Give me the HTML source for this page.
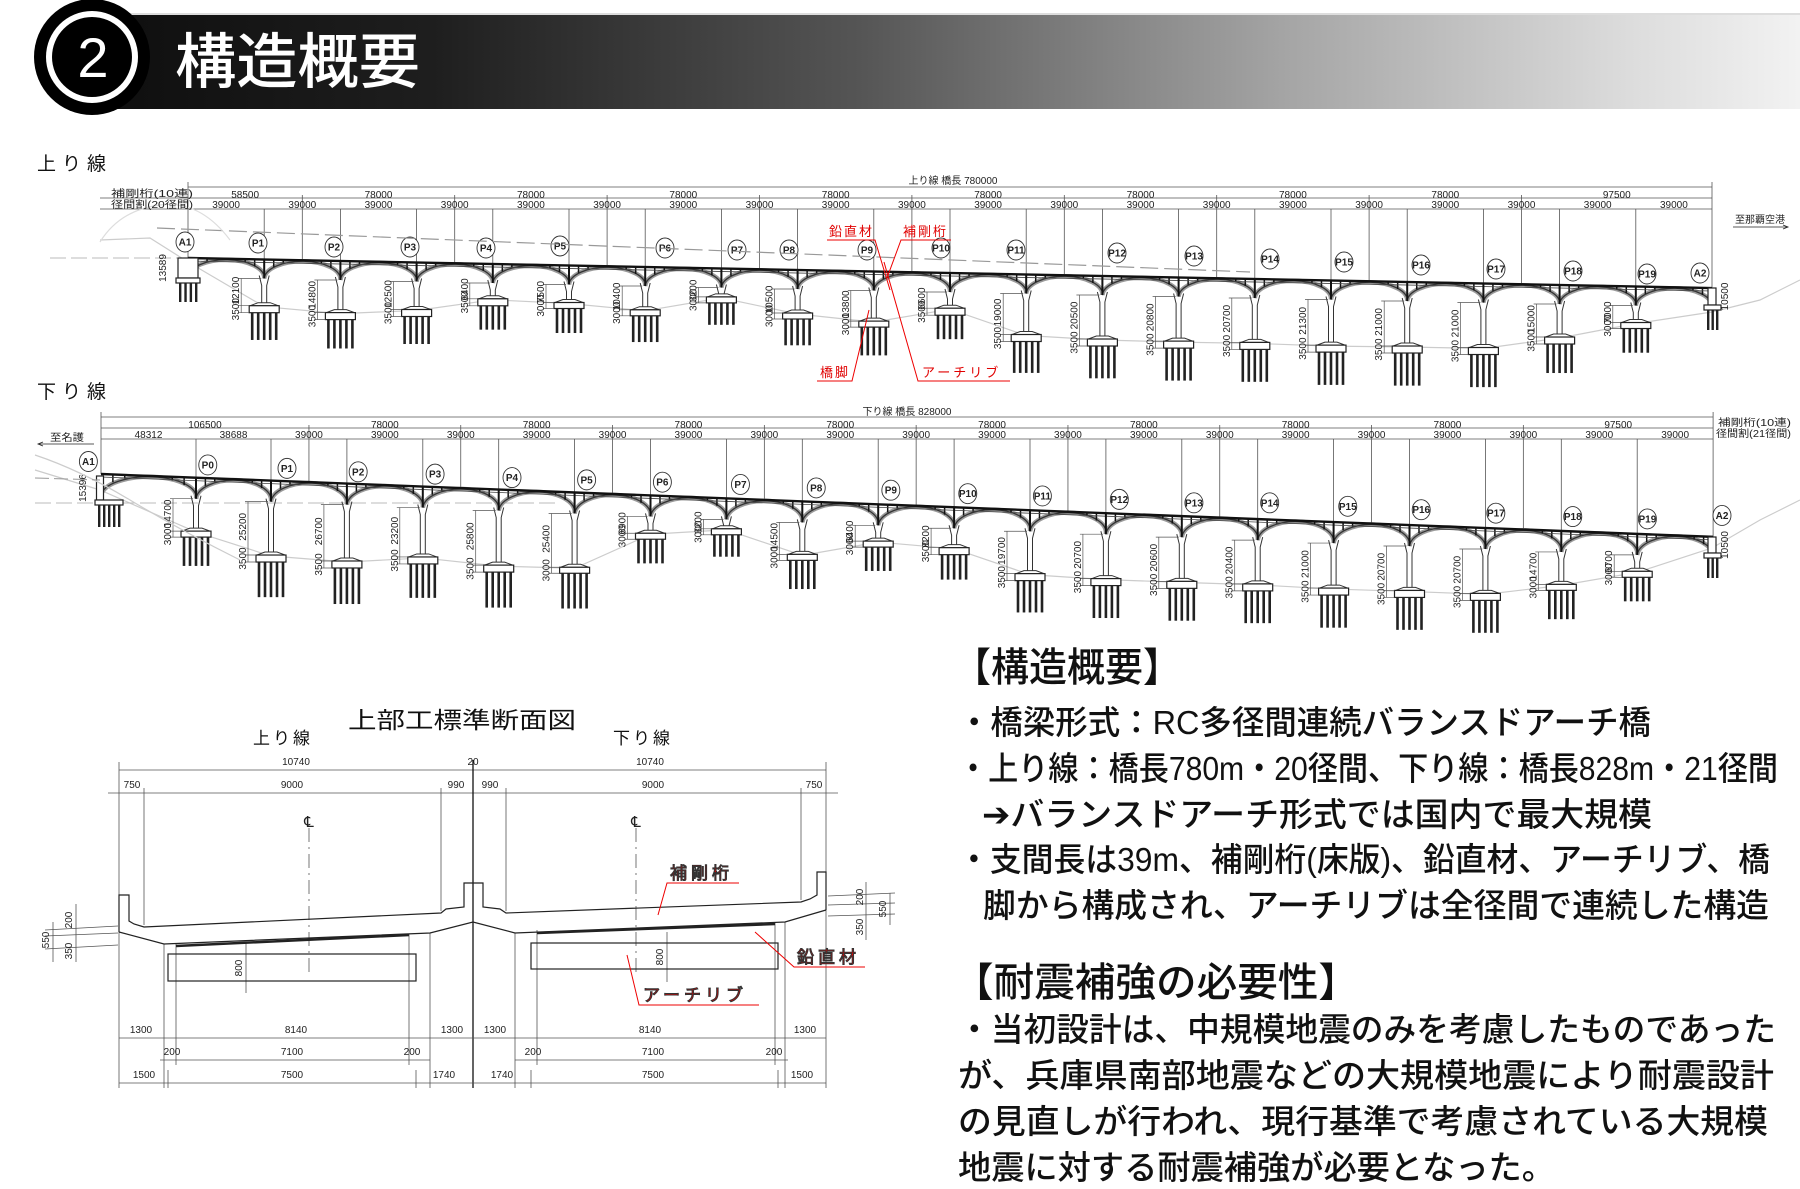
<!DOCTYPE html>
<html><head><meta charset="utf-8">
<style>
html,body{margin:0;padding:0;background:#fff;}
svg{display:block;}
.jp{font-family:"Liberation Sans","Noto Sans CJK JP",sans-serif;}
.sm{font-family:"Liberation Sans","Noto Sans CJK JP",sans-serif;font-size:10px;fill:#222;}
.red{fill:#e00000;font-family:"Liberation Sans","Noto Sans CJK JP",sans-serif;}
</style></head>
<body>
<svg id="s" width="1800" height="1189" viewBox="0 0 1800 1189" xmlns="http://www.w3.org/2000/svg">
<defs>
<linearGradient id="bar" x1="0" x2="1" y1="0" y2="0">
<stop offset="0" stop-color="#0e0e0e"/><stop offset="0.2" stop-color="#1e1e1e"/>
<stop offset="0.45" stop-color="#555"/><stop offset="0.7" stop-color="#a5a5a5"/>
<stop offset="0.9" stop-color="#dcdcdc"/><stop offset="1" stop-color="#f2f2f2"/>
</linearGradient>
</defs>
<!-- header -->
<rect x="90" y="14" width="1710" height="95" fill="url(#bar)"/>
<line x1="90" y1="14" x2="1800" y2="14" stroke="#ddd" stroke-width="2"/>
<circle cx="92" cy="57" r="58" fill="#000"/>
<circle cx="92" cy="57" r="46" fill="#fff"/>
<circle cx="92" cy="57" r="40" fill="#000"/>
<text x="93" y="77" text-anchor="middle" font-size="56" fill="#fff" class="jp">2</text>
<text x="175" y="83" font-size="60" fill="#fff" class="jp" font-weight="500" textLength="245" lengthAdjust="spacingAndGlyphs">構造概要</text>

<text x="37" y="170" font-size="19" class="jp" fill="#111" letter-spacing="6">上り線</text>
<text x="37" y="398" font-size="19" class="jp" fill="#111" letter-spacing="6">下り線</text>

<g id="top"></g>
<g id="bot"></g>

<!-- top static labels -->
<text x="111" y="197" class="sm" font-size="9.5" textLength="82" lengthAdjust="spacingAndGlyphs">補剛桁(10連)</text>
<text x="111" y="208" class="sm" font-size="9.5" textLength="82" lengthAdjust="spacingAndGlyphs">径間割(20径間)</text>
<text x="953" y="184" class="sm" font-size="9.5" text-anchor="middle">上り線 橋長 780000</text>
<text x="1735" y="223" class="sm" font-size="10.5" textLength="50" lengthAdjust="spacingAndGlyphs">至那覇空港</text>
<line x1="1733" y1="227" x2="1788" y2="227" stroke="#222" stroke-width="0.8"/>
<path d="M1783 225 L1788 227 L1783 229" fill="none" stroke="#222" stroke-width="0.8"/>

<!-- bottom static labels -->
<text x="907" y="415" class="sm" font-size="9.5" text-anchor="middle">下り線 橋長 828000</text>
<text x="1718" y="426" class="sm" font-size="9.5" textLength="73" lengthAdjust="spacingAndGlyphs">補剛桁(10連)</text>
<text x="1716" y="437" class="sm" font-size="9.5" textLength="75" lengthAdjust="spacingAndGlyphs">径間割(21径間)</text>
<text x="50" y="441" class="sm" font-size="10.5" textLength="34" lengthAdjust="spacingAndGlyphs">至名護</text>
<line x1="38" y1="444" x2="94" y2="444" stroke="#222" stroke-width="0.8"/>
<path d="M43 442 L38 444 L43 446" fill="none" stroke="#222" stroke-width="0.8"/>

<!-- red annotations on top bridge -->
<g stroke="#e00" stroke-width="1" fill="none">
<path d="M827 240 L875 240 L890 290"/>
<path d="M951 240 L901 240 L887 278"/>
<path d="M817 381 L852 381 L869 310"/>
<path d="M1010 381 L918 381 L884 262"/>
</g>
<text x="829" y="236" class="red" font-size="13" letter-spacing="2">鉛直材</text>
<text x="903" y="236" class="red" font-size="13" letter-spacing="2">補剛桁</text>
<text x="820" y="377" class="red" font-size="13" letter-spacing="2">橋脚</text>
<text x="922" y="377" class="red" font-size="13" letter-spacing="3">アーチリブ</text>

<!-- cross section -->
<g id="xs" fill="none" stroke="#333" stroke-width="1">
<text x="462" y="728" text-anchor="middle" font-size="23" class="jp" fill="#111" stroke="none" textLength="228" lengthAdjust="spacingAndGlyphs">上部工標準断面図</text>
<text x="253" y="744" font-size="17" class="jp" fill="#111" stroke="none" letter-spacing="3">上り線</text>
<text x="613" y="744" font-size="17" class="jp" fill="#111" stroke="none" letter-spacing="3">下り線</text>
<g stroke="#555" stroke-width="0.8">
<line x1="119" y1="770" x2="826" y2="770"/>
<line x1="108" y1="793" x2="838" y2="793"/>
<line x1="119" y1="762" x2="119" y2="1088"/>
<line x1="826" y1="762" x2="826" y2="1088"/>
<line x1="473" y1="760" x2="473" y2="1088" stroke="#111" stroke-width="1.3"/>
<line x1="144" y1="788" x2="144" y2="925"/>
<line x1="441" y1="788" x2="441" y2="911"/>
<line x1="506" y1="788" x2="506" y2="911"/>
<line x1="801" y1="788" x2="801" y2="900"/>
<line x1="309" y1="828" x2="309" y2="972" stroke-dasharray="14 5 2 5"/>
<line x1="636" y1="828" x2="636" y2="972" stroke-dasharray="14 5 2 5"/>
<line x1="164" y1="944" x2="164" y2="1088"/>
<line x1="176" y1="944" x2="176" y2="1065"/>
<line x1="409" y1="934" x2="409" y2="1065"/>
<line x1="430" y1="933" x2="430" y2="1088"/>
<line x1="515" y1="933" x2="515" y2="1088"/>
<line x1="537" y1="930" x2="537" y2="1065"/>
<line x1="775" y1="922" x2="775" y2="1065"/>
<line x1="785" y1="922" x2="785" y2="1088"/>
<line x1="119" y1="1038" x2="826" y2="1038"/>
<line x1="160" y1="1060" x2="430" y2="1060"/>
<line x1="515" y1="1060" x2="788" y2="1060"/>
<line x1="119" y1="1083" x2="826" y2="1083"/>
<line x1="168" y1="1070" x2="168" y2="1088"/>
<line x1="416" y1="1070" x2="416" y2="1088"/>
<line x1="531" y1="1070" x2="531" y2="1088"/>
<line x1="778" y1="1070" x2="778" y2="1088"/>
<line x1="53" y1="922" x2="53" y2="962"/><line x1="76" y1="904" x2="76" y2="962"/>
<line x1="45" y1="930" x2="118" y2="926"/><line x1="45" y1="936" x2="118" y2="933"/><line x1="45" y1="949" x2="118" y2="945"/>
<line x1="866" y1="882" x2="866" y2="940"/><line x1="890" y1="893" x2="890" y2="925"/>
<line x1="828" y1="896" x2="895" y2="893"/><line x1="828" y1="905" x2="895" y2="903"/><line x1="828" y1="916" x2="895" y2="914"/>
<line x1="246" y1="943" x2="246" y2="993"/><line x1="667" y1="932" x2="667" y2="982"/>
</g>
<g class="sm" font-size="11" stroke="none" text-anchor="middle" fill="#222">
<text x="296" y="765">10740</text><text x="473" y="765">20</text><text x="650" y="765">10740</text>
<text x="132" y="788">750</text><text x="292" y="788">9000</text><text x="456" y="788">990</text>
<text x="490" y="788">990</text><text x="653" y="788">9000</text><text x="814" y="788">750</text>
<text x="141" y="1033">1300</text><text x="296" y="1033">8140</text><text x="452" y="1033">1300</text>
<text x="495" y="1033">1300</text><text x="650" y="1033">8140</text><text x="805" y="1033">1300</text>
<text x="172" y="1055">200</text><text x="292" y="1055">7100</text><text x="412" y="1055">200</text>
<text x="533" y="1055">200</text><text x="653" y="1055">7100</text><text x="774" y="1055">200</text>
<text x="144" y="1078">1500</text><text x="292" y="1078">7500</text><text x="444" y="1078">1740</text>
<text x="502" y="1078">1740</text><text x="653" y="1078">7500</text><text x="802" y="1078">1500</text>
<text x="309" y="827" font-size="15">℄</text><text x="636" y="827" font-size="15">℄</text>
<text transform="translate(49,940) rotate(-90)">550</text>
<text transform="translate(72,920) rotate(-90)">200</text>
<text transform="translate(72,951) rotate(-90)">350</text>
<text transform="translate(863,897) rotate(-90)">200</text>
<text transform="translate(886,909) rotate(-90)">550</text>
<text transform="translate(863,927) rotate(-90)">350</text>
<text transform="translate(242,968) rotate(-90)">800</text>
<text transform="translate(663,957) rotate(-90)">800</text>
</g>
<g stroke="#222" stroke-width="1.2">
<path d="M119 932 L119 895 L129 895 L129 921 L134 924 L144 927 L441 913 L446 909 L464 907 L464 883 L483 883 L483 907 L500 909 L506 913 L801 902 L810 899 L817 895 L817 872 L826 872 L826 910"/>
<path d="M119 932 L164 944 L430 933 L473 922 L515 933 L785 922 L826 910"/>
<path d="M176 946 L409 935" stroke-width="2.5"/>
<path d="M537 933 L775 924" stroke-width="2.5"/>
<rect x="168" y="954" width="248" height="27"/>
<rect x="531" y="943" width="247" height="26"/>
</g>
<g stroke="#e00" stroke-width="1">
<path d="M739 883 L667 883 L658 915"/>
<path d="M865 967 L794 967 L755 932"/>
<path d="M759 1005 L639 1005 L627 955"/>
</g>
<text x="670" y="879" class="red" font-size="17" letter-spacing="4">補剛桁</text>
<text x="797" y="963" class="red" font-size="17" letter-spacing="4">鉛直材</text>
<text x="643" y="1001" class="red" font-size="17" letter-spacing="4">アーチリブ</text>
</g>

<!-- text block -->
<g class="jp" fill="#111" font-weight="500">
<text x="953" y="681" font-size="40" textLength="228" lengthAdjust="spacingAndGlyphs">【構造概要】</text>
<text x="958" y="734" font-size="33" textLength="693" lengthAdjust="spacingAndGlyphs">・橋梁形式：RC多径間連続バランスドアーチ橋</text>
<text x="958" y="780" font-size="33" textLength="820" lengthAdjust="spacingAndGlyphs">・上り線：橋長780m・20径間、下り線：橋長828m・21径間</text>
<text x="982" y="826" font-size="33" textLength="670" lengthAdjust="spacingAndGlyphs">➔バランスドアーチ形式では国内で最大規模</text>
<text x="958" y="871" font-size="33" textLength="812" lengthAdjust="spacingAndGlyphs">・支間長は39m、補剛桁(床版)、鉛直材、アーチリブ、橋</text>
<text x="983" y="917" font-size="33" textLength="786" lengthAdjust="spacingAndGlyphs">脚から構成され、アーチリブは全径間で連続した構造</text>
<text x="953" y="996" font-size="40" textLength="406" lengthAdjust="spacingAndGlyphs">【耐震補強の必要性】</text>
<text x="958" y="1041" font-size="33" textLength="818" lengthAdjust="spacingAndGlyphs">・当初設計は、中規模地震のみを考慮したものであった</text>
<text x="958" y="1087" font-size="33" textLength="816" lengthAdjust="spacingAndGlyphs">が、兵庫県南部地震などの大規模地震により耐震設計</text>
<text x="958" y="1133" font-size="33" textLength="810" lengthAdjust="spacingAndGlyphs">の見直しが行われ、現行基準で考慮されている大規模</text>
<text x="958" y="1179" font-size="33" textLength="597" lengthAdjust="spacingAndGlyphs">地震に対する耐震補強が必要となった。</text>
</g>
</svg>
<script>
(function(){
var NS='http://www.w3.org/2000/svg';
function el(p,t,a,txt){var e=document.createElementNS(NS,t);for(var k in a)e.setAttribute(k,a[k]);if(txt!==undefined)e.textContent=txt;p.appendChild(e);return e;}
function build(g,c){
  var xs=c.xs, n=xs.length, deck=c.deck, d=c.d, k=0.002;
  var gp=[];
  for(var i=1;i<n-1;i++){var x=xs[i];var yJ=deck(x)+d;gp.push((x)+','+(yJ+c.h[i-1]*k+4));}
  el(g,'polyline',{points:c.gStart+' '+gp.join(' ')+' '+c.gEnd,fill:'none',stroke:'#ccc','stroke-width':1.2});
  el(g,'polyline',{points:c.gStart2,fill:'none',stroke:'#bbb','stroke-width':1,'stroke-dasharray':'16 5'});
  var L=c.dimL;
  el(g,'line',{x1:xs[0],y1:c.dy[0],x2:xs[n-1],y2:c.dy[0],stroke:'#555','stroke-width':0.8});
  el(g,'line',{x1:L,y1:c.dy[1],x2:xs[n-1],y2:c.dy[1],stroke:'#555','stroke-width':0.8});
  el(g,'line',{x1:L,y1:c.dy[2],x2:xs[n-1],y2:c.dy[2],stroke:'#555','stroke-width':0.8});
  el(g,'line',{x1:xs[0],y1:c.dy[0]-5,x2:xs[0],y2:deck(xs[0]),stroke:'#555','stroke-width':0.8});
  el(g,'line',{x1:xs[n-1],y1:c.dy[0]-5,x2:xs[n-1],y2:deck(xs[n-1]),stroke:'#555','stroke-width':0.8});
  for(var i=1;i<n-1;i++){el(g,'line',{x1:xs[i],y1:c.dy[2],x2:xs[i],y2:deck(xs[i]),stroke:'#555','stroke-width':0.8});}
  c.gb.forEach(function(x){el(g,'line',{x1:x,y1:c.dy[1]-3,x2:x,y2:deck(x),stroke:'#555','stroke-width':0.8});});
  c.r1.forEach(function(t){el(g,'text',{x:t[0],y:c.dy[0]+11,'class':'sm','font-size':10,'text-anchor':'middle'},t[1]);});
  for(var i=0;i<n-1;i++){var lab=c.r2[i]||'39000';el(g,'text',{x:(xs[i]+xs[i+1])/2,y:c.dy[1]+10,'class':'sm','font-size':10,'text-anchor':'middle'},lab);}
  for(var i=0;i<n-1;i++){
    var xa=xs[i],xb=xs[i+1],ya=deck(xa)+d,yb=deck(xb)+d,rx=(xb-xa)/2,ry=d-1;
    el(g,'path',{d:'M'+xa+' '+ya+' A'+rx+' '+ry+' 0 0 1 '+xb+' '+yb,fill:'none',stroke:'#9a9a9a','stroke-width':4.5});
    el(g,'path',{d:'M'+xa+' '+ya+' A'+rx+' '+ry+' 0 0 1 '+xb+' '+yb,fill:'none',stroke:'#333','stroke-width':1.3});
    for(var j=1;j<8;j++){if(j==4)continue;var t=j/8,x=xa+t*(xb-xa);var yd=deck(x);var yl=ya+t*(yb-ya);
      var ay=yl-ry*Math.sqrt(1-Math.pow(2*t-1,2));if(ay-yd>2)el(g,'line',{x1:x,y1:yd,x2:x,y2:ay,stroke:'#111','stroke-width':1.5});}
  }
  el(g,'line',{x1:xs[0],y1:deck(xs[0]),x2:xs[n-1],y2:deck(xs[n-1]),stroke:'#111','stroke-width':2.4});
  el(g,'line',{x1:xs[0],y1:deck(xs[0])+3,x2:xs[n-1],y2:deck(xs[n-1])+3,stroke:'#444','stroke-width':0.8});
  for(var i=1;i<n-1;i++){
    var x=xs[i],yJ=deck(x)+d,h=c.h[i-1],f=c.f[i-1],ct=yJ+h*k,ch=f*k,pl=20+h*0.0006;
    el(g,'line',{x1:x,y1:deck(x),x2:x,y2:yJ,stroke:'#111','stroke-width':2});
    el(g,'path',{d:'M'+(x-5)+' '+(yJ-3)+' L'+(x-2.5)+' '+(yJ+7)+' L'+(x-2.5)+' '+ct+' M'+(x+5)+' '+(yJ-3)+' L'+(x+2.5)+' '+(yJ+7)+' L'+(x+2.5)+' '+ct,fill:'none',stroke:'#333','stroke-width':1});
    el(g,'path',{d:'M'+(x-6)+' '+ct+' L'+(x-14)+' '+(ct+3)+' L'+(x+14)+' '+(ct+3)+' L'+(x+6)+' '+ct+' Z',fill:'#fff',stroke:'#333','stroke-width':1});
    el(g,'rect',{x:x-15,y:ct+3,width:30,height:ch,fill:'#fff',stroke:'#222','stroke-width':1.2});
    for(var p=-2;p<=2;p++)el(g,'rect',{x:x+p*6-1.3,y:ct+3+ch,width:2.6,height:pl,fill:'#222'});
    var dx=x-26;
    el(g,'path',{d:'M'+dx+' '+yJ+' L'+(x-3)+' '+yJ+' M'+dx+' '+(ct+3)+' L'+(x-15)+' '+(ct+3)+' M'+dx+' '+(ct+3+ch)+' L'+(x-15)+' '+(ct+3+ch)+' M'+(dx+3)+' '+yJ+' L'+(dx+3)+' '+(ct+3+ch),fill:'none',stroke:'#555','stroke-width':0.7});
    el(g,'text',{transform:'translate('+(dx+1)+','+((yJ+ct)/2)+') rotate(-90)','class':'sm','font-size':10,'text-anchor':'middle'},String(h));
    el(g,'text',{transform:'translate('+(dx+1)+','+(ct+3+ch/2)+') rotate(-90)','class':'sm','font-size':9,'text-anchor':'middle'},String(f));
  }
  c.ab.forEach(function(a){
    el(g,'rect',{x:a.x-a.w/2,y:a.y0,width:a.w,height:a.y1-a.y0,fill:'#fff',stroke:'#222','stroke-width':1.2});
    el(g,'rect',{x:a.cx,y:a.y1,width:a.cw,height:5,fill:'#fff',stroke:'#222','stroke-width':1.2});
    for(var p=0;p<a.np;p++)el(g,'rect',{x:a.cx+3+p*((a.cw-8)/(a.np-1)),y:a.y1+5,width:2.4,height:a.pl,fill:'#222'});
    el(g,'text',{transform:'translate('+a.tx+','+((a.y0+a.y1)/2)+') rotate(-90)','class':'sm','font-size':10,'text-anchor':'middle'},a.t);
  });
  c.cir.forEach(function(q){el(g,'ellipse',{cx:q[0],cy:q[1],rx:9,ry:10,fill:'#fff',stroke:'#333','stroke-width':0.9});
    el(g,'text',{x:q[0],y:q[1]+3.5,'class':'sm','font-size':9,'text-anchor':'middle','font-weight':'bold'},q[2]);});
}
var tx=[188];for(var i=1;i<=20;i++)tx.push(188+i*76.2);
var tdeck=function(x){return 258+(x-188)*0.0197;};
var tc=[[185,242,'A1']],tl=[258,334,410,486,560,665,737,789,867,941,1016,1117,1194,1270,1344,1421,1496,1573,1647,1700],
 ty=[243,247,247,248,246,248,250,250,250,248,250,253,256,259,262,265,269,271,274,273];
for(var i=0;i<20;i++)tc.push([tl[i],ty[i],i<19?'P'+(i+1):'A2']);
var tgb=[],tr1=[];var prev=188;
for(var j=0;j<9;j++){var b=188+(1.5+2*j)*76.2;tgb.push(b);tr1.push([(prev+b)/2,j==0?'58500':'78000']);prev=b;}
tr1.push([(prev+tx[20])/2,'97500']);
build(document.getElementById('top'),{xs:tx,deck:tdeck,d:19,
 h:[12100,14800,12500,6400,7500,10400,3200,10500,13800,6600,19000,20500,20800,20700,21300,21000,21000,15000,7000],
 f:[3500,3500,3500,3500,3000,3000,3000,3000,3000,3500,3500,3500,3500,3500,3500,3500,3500,3500,3000],
 dy:[187,198,209],dimL:100,gb:tgb,r1:tr1,r2:[],cir:tc,
 gStart:'100,240 150,238 188,262',gEnd:'1712,312 1760,300 1800,280',
 gStart2:'50,258 188,258',
 ab:[{x:188,w:20,y0:258,y1:278,cx:176,cw:24,np:4,pl:19,t:'13589',tx:166},
     {x:1712,w:8,y0:288,y1:305,cx:1704,cw:17,np:3,pl:20,t:'10500',tx:1728}]});
var tg=document.getElementById('top');
el(tg,'line',{x1:157,y1:228,x2:1250,y2:272,stroke:'#999','stroke-width':1.2,'stroke-dasharray':'18 6'});
el(tg,'path',{d:'M100 242 Q120 210 160 205 Q200 200 230 240',fill:'none',stroke:'#ddd','stroke-width':1.2});
var bx=[101,196];for(var i=1;i<=20;i++)bx.push(271+(i-1)*75.9);
var bdeck=function(x){return 474+(x-101)*0.039;};
var bl=[77,181,250,312,379,446,511,577,645,711,776,843,908,975,1040,1106,1174,1238,1303,1370,1435,1500],
 by=[402,405,408,411,413,416,418,420,422,425,427,430,432,435,438,438,441,444,447,450,452,449];
var bc=[];for(var i=0;i<22;i++){bc.push([bl[i]*1.148,by[i]*1.148,i==0?'A1':(i==21?'A2':'P'+(i-1))]);}
var bgb=[],br1=[];prev=101;
for(var j=0;j<9;j++){var b=271+(0.5+2*j)*75.9;bgb.push(b);br1.push([(prev+b)/2,j==0?'106500':'78000']);prev=b;}
br1.push([(prev+bx[21])/2,'97500']);
build(document.getElementById('bot'),{xs:bx,deck:bdeck,d:21,
 h:[14700,25200,26700,23200,25800,25400,6900,3200,14500,6400,8200,19700,20700,20600,20400,21000,20700,20700,14700,6700],
 f:[3000,3500,3500,3500,3500,3000,3000,3000,3000,3000,3500,3500,3500,3500,3500,3500,3500,3500,3000,3000],
 dy:[417,428,439],dimL:101,gb:bgb,r1:br1,r2:['48312','38688'],cir:bc,
 gStart:'35,470 100,490',gEnd:'1712,548 1760,520 1800,500',
 gStart2:'35,503 560,503',
 ab:[{x:100,w:7,y0:476,y1:500,cx:95,cw:28,np:5,pl:22,t:'15396',tx:86},
     {x:1712,w:8,y0:537,y1:553,cx:1704,cw:17,np:3,pl:20,t:'10500',tx:1728}]});
var bg=document.getElementById('bot');
el(bg,'path',{d:'M35 455 Q80 470 130 500 Q180 530 240 560',fill:'none',stroke:'#ccc','stroke-width':1.2});
el(bg,'path',{d:'M35 478 L100 480',fill:'none',stroke:'#999','stroke-width':1,'stroke-dasharray':'14 5'});
})();
</script>
</body></html>
